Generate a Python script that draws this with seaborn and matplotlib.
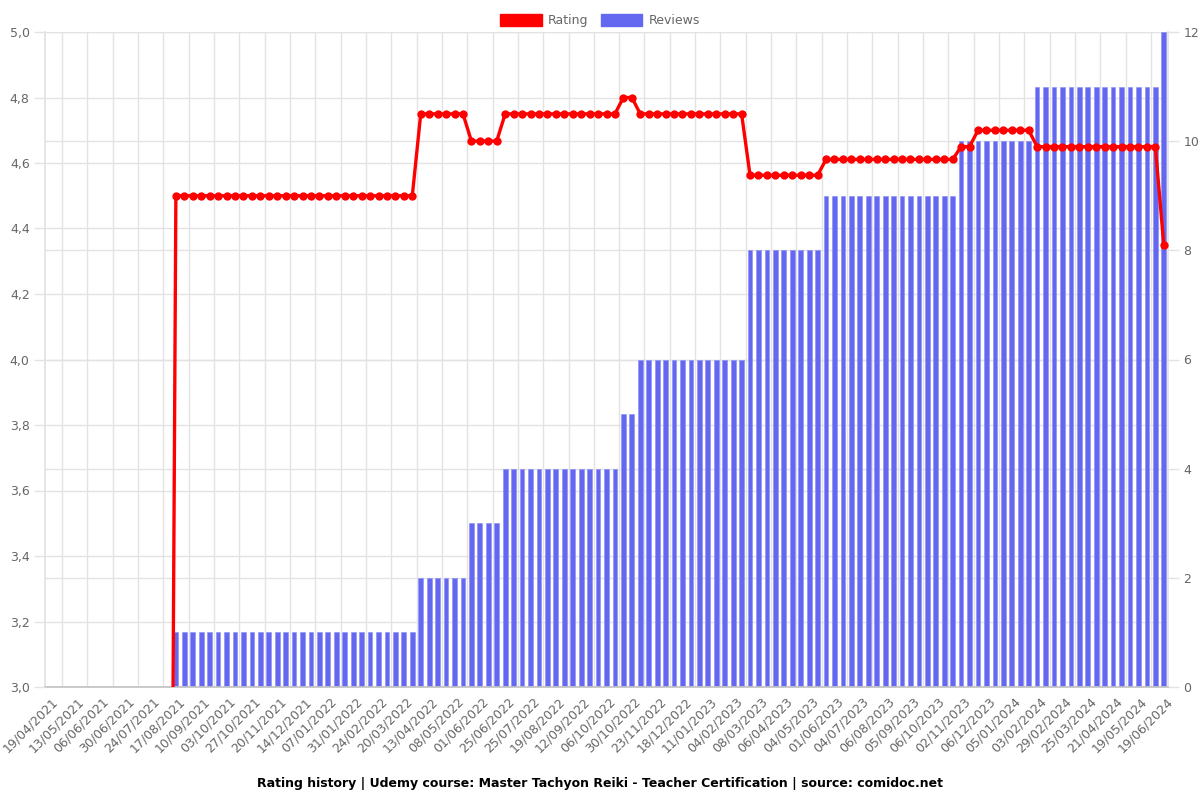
import matplotlib
matplotlib.use("Agg")
import matplotlib.pyplot as plt
import seaborn as sns
import pandas as pd
from matplotlib.patches import Patch
from matplotlib.ticker import FuncFormatter
from matplotlib.transforms import blended_transform_factory, ScaledTranslation

# ---------------- data ----------------
tick_labels = [
    "19/04/2021", "13/05/2021", "06/06/2021", "30/06/2021", "24/07/2021",
    "17/08/2021", "10/09/2021", "03/10/2021", "27/10/2021", "20/11/2021",
    "14/12/2021", "07/01/2022", "31/01/2022", "24/02/2022", "20/03/2022",
    "13/04/2022", "08/05/2022", "01/06/2022", "25/06/2022", "25/07/2022",
    "19/08/2022", "12/09/2022", "06/10/2022", "30/10/2022", "23/11/2022",
    "18/12/2022", "11/01/2023", "04/02/2023", "08/03/2023", "06/04/2023",
    "04/05/2023", "01/06/2023", "04/07/2023", "06/08/2023", "05/09/2023",
    "06/10/2023", "02/11/2023", "06/12/2023", "05/01/2024", "03/02/2024",
    "29/02/2024", "25/03/2024", "21/04/2024", "19/05/2024", "19/06/2024",
]

reviews = [
    0, 0, 0, 0, 0, 0, 0, 0, 0, 0, 0, 0, 0, 0, 0,
    1, 1, 1, 1, 1, 1, 1, 1, 1, 1,
    1, 1, 1, 1, 1, 1, 1, 1, 1, 1,
    1, 1, 1, 1, 1, 1, 1, 1, 1,
    2, 2, 2, 2, 2, 2,
    3, 3, 3, 3,
    4, 4, 4, 4, 4, 4, 4, 4, 4, 4, 4, 4, 4, 4,
    5, 5,
    6, 6, 6, 6, 6, 6, 6, 6, 6, 6, 6, 6, 6,
    8, 8, 8, 8, 8, 8, 8, 8, 8,
    9, 9, 9, 9, 9, 9, 9, 9, 9, 9, 9, 9, 9, 9, 9, 9,
    10, 10, 10, 10, 10, 10, 10, 10, 10,
    11, 11, 11, 11, 11, 11, 11, 11, 11, 11, 11, 11, 11, 11, 11,
    12,
]

rating = [
    0, 0, 0, 0, 0, 0, 0, 0, 0, 0, 0, 0, 0, 0, 0,
    4.5, 4.5, 4.5, 4.5, 4.5, 4.5, 4.5, 4.5, 4.5, 4.5,
    4.5, 4.5, 4.5, 4.5, 4.5, 4.5, 4.5, 4.5, 4.5, 4.5,
    4.5, 4.5, 4.5, 4.5, 4.5, 4.5, 4.5, 4.5, 4.5,
    4.75, 4.75, 4.75, 4.75, 4.75, 4.75,
    4.667, 4.667, 4.667, 4.667,
    4.75, 4.75, 4.75, 4.75, 4.75, 4.75, 4.75, 4.75, 4.75, 4.75, 4.75, 4.75, 4.75, 4.75,
    4.8, 4.8,
    4.75, 4.75, 4.75, 4.75, 4.75, 4.75, 4.75, 4.75, 4.75, 4.75, 4.75, 4.75, 4.75,
    4.5625, 4.5625, 4.5625, 4.5625, 4.5625, 4.5625, 4.5625, 4.5625, 4.5625,
    4.611, 4.611, 4.611, 4.611, 4.611, 4.611, 4.611, 4.611,
    4.611, 4.611, 4.611, 4.611, 4.611, 4.611, 4.611, 4.611,
    4.65, 4.65,
    4.7, 4.7, 4.7, 4.7, 4.7, 4.7, 4.7,
    4.65, 4.65, 4.65, 4.65, 4.65, 4.65, 4.65, 4.65, 4.65, 4.65, 4.65, 4.65, 4.65, 4.65, 4.65,
    4.35,
]

rating_ticks = [3.0, 3.2, 3.4, 3.6, 3.8, 4.0, 4.2, 4.4, 4.6, 4.8, 5.0]
review_ticks = [0, 2, 4, 6, 8, 10, 12]
title = ("Rating history | Udemy course: Master Tachyon Reiki - Teacher Certification"
         " | source: comidoc.net")

# ---------------- style ----------------
RED = "#ff0000"
BAR = "#6467f0"
GRID = "#e3e3e3"
TXT = "#666666"

sns.set_theme(style="white")
plt.rcParams["font.family"] = ["DejaVu Sans"]

W, H = 1200, 800
fig = plt.figure(figsize=(W / 100, H / 100), dpi=100)
L, R, T, B = 45, 1168, 32, 687
ax = fig.add_axes([L / W, 1 - B / H, (R - L) / W, (B - T) / H])
ax2 = ax.twinx()

n = len(reviews)
df = pd.DataFrame({"idx": list(range(n)), "rating": rating, "reviews": reviews})

sns.barplot(data=df, x="idx", y="reviews", ax=ax, color=BAR, width=0.56,
            saturation=1, edgecolor="#8a8cf4", linewidth=0.4, zorder=2)
sns.lineplot(data=df, x="idx", y="rating", ax=ax2, color=RED, linewidth=2.4,
             marker="o", markersize=6, markeredgewidth=0, legend=False, zorder=3)

ax.set_xlim(-0.5, n - 0.5)
ax.set_ylim(0, 12)
ax2.set_ylim(3, 5)
ax.set_xlabel("")
ax.set_ylabel("")
ax2.set_xlabel("")
ax2.set_ylabel("")

# axis sides
ax.yaxis.tick_right()
ax2.yaxis.tick_left()

# x ticks: gridline marks between labelled categories, labels drawn as text
tick_pos = list(range(0, n, 3))
grid_x = [p - 1.5 for p in tick_pos[1:]]
ax.set_xticks(grid_x)
ax.tick_params(axis="x", which="major", length=8, width=1, color=GRID,
               labelbottom=False)
ax2.xaxis.set_visible(False)
lab_tr = ax.get_xaxis_transform() + ScaledTranslation(7 / 100, -12.5 / 100,
                                                      fig.dpi_scale_trans)
for p, lab in zip(tick_pos, tick_labels):
    ax.text(p, 0, lab, transform=lab_tr, rotation=45, ha="right", va="center",
            rotation_mode="anchor", fontsize=9, color=TXT, clip_on=False)

# y ticks
ax.set_yticks(review_ticks)
ax.tick_params(axis="y", which="both", length=8, width=1, color=GRID,
               labelsize=9, labelcolor=TXT, pad=3, left=False, right=True,
               labelleft=False, labelright=True)
ax2.set_yticks(rating_ticks)
ax2.yaxis.set_major_formatter(FuncFormatter(lambda v, p: f"{v:.1f}".replace(".", ",")))
ax2.tick_params(axis="y", which="both", length=8, width=1, color=GRID,
                labelsize=9, labelcolor=TXT, pad=3, left=True, right=False,
                labelleft=True, labelright=False)

# grid lines (behind bars)
ax.grid(False)
ax2.grid(False)
for gx in grid_x:
    ax.axvline(gx, color=GRID, lw=1, zorder=0)
for v in review_ticks:
    ax.axhline(v, color=GRID, lw=1, zorder=0)
tr = blended_transform_factory(ax.transAxes, ax2.transData)
for r in rating_ticks:
    ax.plot([0, 1], [r, r], transform=tr, color=GRID, lw=1, zorder=0)

# spines
ax.spines["top"].set_visible(False)
ax.spines["bottom"].set_color("#c4c4c4")
ax.spines["left"].set_color(GRID)
ax.spines["right"].set_color(GRID)
for s in ax2.spines.values():
    s.set_visible(False)

# legend
handles = [Patch(facecolor=RED, edgecolor=RED, label="Rating"),
           Patch(facecolor=BAR, edgecolor=BAR, label="Reviews")]
fig.legend(handles=handles, loc="upper center", bbox_to_anchor=(0.5, 1 - 3 / H),
           ncol=2, frameon=False, fontsize=9, handlelength=3.3, handleheight=1.0,
           handletextpad=0.5, columnspacing=1.0, labelcolor=TXT)

fig.text(0.5, 1 - 783 / H, title, ha="center", va="center", fontsize=9,
         fontweight="bold", color="black")

fig.savefig("out.png", dpi=100)
